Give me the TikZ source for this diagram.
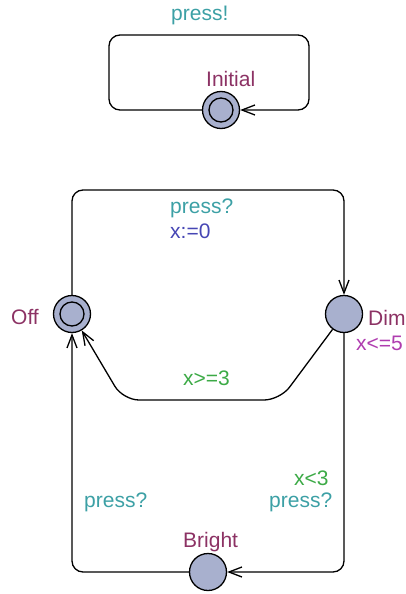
\documentclass[tikz,border=0pt]{standalone}
\usepackage{fontspec}
\setmainfont{Liberation Sans}
\usetikzlibrary{arrows.meta}
\definecolor{locname}{RGB}{140,50,100}
\definecolor{syncc}{RGB}{60,160,165}
\definecolor{updc}{RGB}{70,70,180}
\definecolor{guardc}{RGB}{60,170,70}
\definecolor{invc}{RGB}{175,60,175}
\definecolor{locfill}{RGB}{168,176,206}
\tikzset{
  loc/.style={circle, draw=black, fill=locfill, line width=1.3pt, minimum size=37pt, inner sep=0pt},
  edge/.style={draw=black, line width=1.3pt, rounded corners=11pt, -{Straight Barb[length=13pt,width=10pt,line width=1.3pt]}},
  lbl/.style={inner sep=0pt, anchor=base west, font=\fontsize{21}{25}\selectfont},
  lblr/.style={inner sep=0pt, anchor=base east, font=\fontsize{21}{25}\selectfont},
}
\begin{document}
\begin{tikzpicture}[x=1pt,y=-1pt]
\useasboundingbox (0,0) rectangle (405,594);
% locations
\node[loc] (init) at (221,110) {};
\draw[line width=1.3pt] (init) circle[radius=12pt];
\node[loc] (off) at (72,314) {};
\draw[line width=1.3pt] (off) circle[radius=12pt];
\node[loc] (dim) at (344,314) {};
\node[loc] (bright) at (208,572) {};
% location labels
\node[lbl, text=locname] (linit) at (206,86) {Initial};
\node[lbl, text=locname] (loff) at (11,324) {Off};
\node[lbl, text=locname] (ldim) at (368,325) {Dim};
\node[lbl, text=invc] (linv) at (356,350) {x<=5};
\node[lbl, text=locname] (lbright) at (183,547) {Bright};
% edges
\draw[edge] (init.west) -- (109,110) -- (109,35) -- (309,35) -- (309,110) -- (init.east);
\draw[edge] (off.north) -- (72,190) -- (344,190) -- (dim.north);
\draw[edge, rounded corners=16pt] (dim) -- (280,400) -- (123,400) -- (off);
\draw[edge] (dim.south) -- (344,572) -- (bright.east);
\draw[edge] (bright.west) -- (72,572) -- (off.south);
% edge labels
\node[lbl, text=syncc] (s0) at (171,21) {press!};
\node[lbl, text=syncc] (s1) at (170,213) {press?};
\node[lbl, text=updc] (u1) at (170,238) {x:=0};
\node[lbl, text=guardc] (g2) at (183,385) {x>=3};
\node[lbl, text=guardc] (g3) at (294,485) {x<3};
\node[lbl, text=syncc] (s3) at (269,507) {press?};
\node[lbl, text=syncc] (s4) at (84,507) {press?};
\end{tikzpicture}
\end{document}
